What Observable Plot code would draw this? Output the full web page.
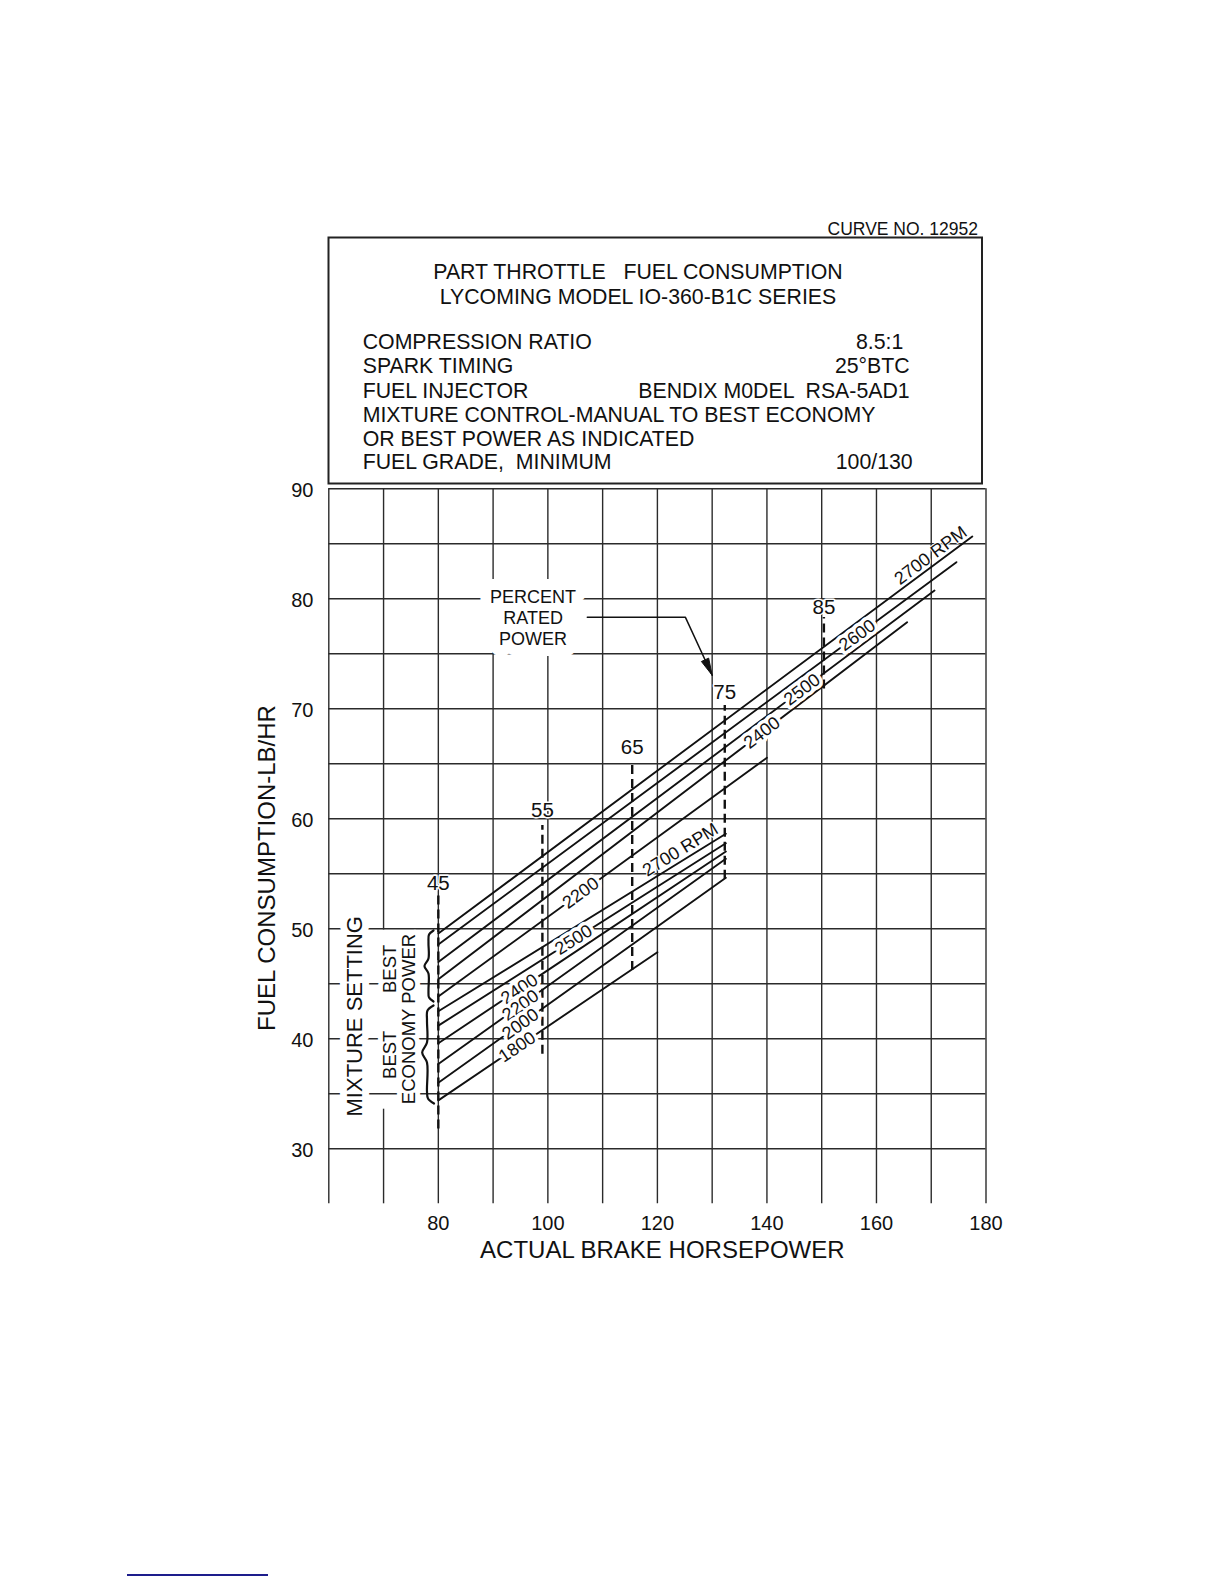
<!DOCTYPE html>
<html>
<head>
<meta charset="utf-8">
<script src="https://cdn.jsdelivr.net/npm/d3@7"></script>
<script src="https://cdn.jsdelivr.net/npm/@observablehq/plot@0.6"></script>
<style>
  html, body { margin: 0; padding: 0; background: #fff; }
  #page { position: relative; width: 1224px; height: 1584px; overflow: hidden; background: #fff;
          font-family: "Liberation Sans", Arial, Helvetica, sans-serif; color: #111; }
  #header { position: absolute; left: 0; top: 0; }
  #header text { font-family: "Liberation Sans", Arial, Helvetica, sans-serif; fill: #111; white-space: pre; }
  #chart { position: absolute; left: 0; top: 486px; }
  #rule { position: absolute; left: 127px; top: 1574px; width: 141px; height: 2px; background: #1d1d8c; }
</style>
</head>
<body>
<div id="page">
  <svg id="header" width="1224" height="486" viewBox="0 0 1224 486">
    <text x="978" y="235" text-anchor="end" font-size="17.5">CURVE NO. 12952</text>
    <rect x="328.5" y="237.5" width="653.5" height="246" fill="none" stroke="#222" stroke-width="2"></rect>
    <text x="638" y="279" text-anchor="middle" font-size="21.3">PART THROTTLE   FUEL CONSUMPTION</text>
    <text x="638" y="304" text-anchor="middle" font-size="21.3">LYCOMING MODEL IO-360-B1C SERIES</text>
    <text x="362.7" y="349.3" font-size="21.3">COMPRESSION RATIO</text>
    <text x="903.3" y="349.3" text-anchor="end" font-size="21.3">8.5:1</text>
    <text x="362.7" y="373.3" font-size="21.3">SPARK TIMING</text>
    <text x="909.7" y="373.3" text-anchor="end" font-size="21.3">25°BTC</text>
    <text x="362.7" y="397.7" font-size="21.3">FUEL INJECTOR</text>
    <text x="909.7" y="397.7" text-anchor="end" font-size="21.3">BENDIX M0DEL  RSA-5AD1</text>
    <text x="362.7" y="421.7" font-size="21.3">MIXTURE CONTROL-MANUAL TO BEST ECONOMY</text>
    <text x="362.7" y="445.5" font-size="21.3">OR BEST POWER AS INDICATED</text>
    <text x="362.7" y="469.3" font-size="21.3">FUEL GRADE,  MINIMUM</text>
    <text x="912.7" y="469.3" text-anchor="end" font-size="21.3">100/130</text>
  </svg>
  <div id="chart"></div>
  <div id="rule"></div>
</div>
<script>
// ---------------- data ----------------
// Best power mixture lines (lb/hr vs brake horsepower)
const powerRPM    = ["2700", "2600", "2500", "2400", "2200"];
const powerHP0    = [80, 80, 80, 80, 80];
const powerFuel0  = [49.57, 48.57, 46.99, 45.41, 43.85];
const powerHP1    = [177.5, 174.6, 170.6, 165.6, 140.0];
const powerFuel1  = [85.66, 83.33, 80.75, 77.87, 65.55];
const powerLabel  = ["2700 RPM", "2600", "2500", "2400", "2200"];
const powerLabelHP = [169.9, 156.5, 146.4, 139.1, 106.0];

// Best economy mixture lines
const economyRPM   = ["2700", "2500", "2400", "2200", "2000", "1800"];
const economyHP0   = [80, 80, 80, 80, 80, 80];
const economyFuel0 = [42.5, 41.2, 39.6, 37.7, 36.0, 34.4];
const economyHP1   = [132.5, 132.5, 132.5, 132.5, 132.5, 120.0];
const economyFuel1 = [58.64, 57.78, 57.03, 56.36, 54.64, 47.87];
const economyLabel = ["2700 RPM", "2500", "2400", "2200", "2000", "1800"];
const economyLabelHP = [124.2, 104.7, 94.8, 95.0, 95.0, 94.4];

// Percent rated power markers
const pctLabel     = ["45", "55", "65", "75", "85"];
const pctHP        = [80, 99, 115.4, 132.3, 150.4];
const pctFuelLow   = [31.8, 38.6, 46.2, 54.5, 71.8];
const pctFuelHigh  = [53.2, 59.4, 65.3, 70.3, 78.3];
const pctLabelFuel = [54.1, 60.75, 66.5, 71.5, 79.2];

// Axes
const xTicks = [80, 100, 120, 140, 160, 180];
const yTicks = [30, 40, 50, 60, 70, 80, 90];
const xGrid  = [60, 70, 80, 90, 100, 110, 120, 130, 140, 150, 160, 170, 180];
const yGrid  = [30, 35, 40, 45, 50, 55, 60, 65, 70, 75, 80, 85, 90];
const xDomain = [60, 180];
const yDomain = [25, 90];
// grid lines interrupted by the legend text blocks
const xGridGap = [{hp: 70, from: 33.6, to: 49.9}, {hp: 90, from: 75.6, to: 81.4}, {hp: 100, from: 75.6, to: 81.4}];

// Annotations (data units)
const mixtureText = ["MIXTURE SETTING", "BEST", "BEST", "ECONOMY POWER"];
const mixtureHP   = [64.8, 71.1, 71.1, 74.7];
const mixtureFuel = [42.05, 46.36, 38.55, 41.8];
const braceUpperHP   = [79.12, 78.30, 78.20, 78.20, 77.47, 78.20, 78.20, 78.30, 79.12];
const braceUpperFuel = [49.85, 49.48, 48.75, 47.30, 46.62, 45.94, 44.39, 43.75, 43.39];
const braceLowerHP   = [79.12, 78.02, 77.93, 77.93, 77.05, 77.93, 77.93, 78.11, 79.21];
const braceLowerFuel = [43.03, 42.57, 41.66, 39.66, 38.75, 37.85, 35.21, 34.57, 34.12];
const calloutText = "PERCENT\nRATED\nPOWER";
const calloutHP = 97.3, calloutFuel = 78.3;
const arrowHP   = [107.2, 125.1, 130.0];
const arrowFuel = [78.33, 78.33, 73.05];

// ---------------- layout ----------------
const W = 1224, CHART_TOP = 486, H = 804;
const FRAME_L = 328.3, FRAME_R = 985.5, FRAME_T = 488.3, FRAME_B = 1203.3;
const mTop = FRAME_T - CHART_TOP, mBottom = CHART_TOP + H - FRAME_B;
const mLeft = FRAME_L, mRight = W - FRAME_R;
const PX_HP = (FRAME_R - FRAME_L) / (xDomain[1] - xDomain[0]);
const PX_FUEL = (FRAME_B - FRAME_T) / (yDomain[1] - yDomain[0]);
const FONT = "Liberation Sans, Arial, Helvetica, sans-serif";
const INK = "#111";

// ---------------- derived tables ----------------
function buildLines(prefix, rpm, hp0, f0, hp1, f1) {
  const rows = [];
  rpm.forEach((r, i) => {
    rows.push({key: prefix + r, hp: hp0[i], fuel: f0[i]});
    rows.push({key: prefix + r, hp: hp1[i], fuel: f1[i]});
  });
  return rows;
}
const lineRows = [
  ...buildLines("P", powerRPM, powerHP0, powerFuel0, powerHP1, powerFuel1),
  ...buildLines("E", economyRPM, economyHP0, economyFuel0, economyHP1, economyFuel1)
];
function buildLabels(text, at, hp0, f0, hp1, f1) {
  return text.map((t, i) => {
    const slope = (f1[i] - f0[i]) / (hp1[i] - hp0[i]);
    const fuel = f0[i] + slope * (at[i] - hp0[i]);
    const angle = -Math.atan(slope * PX_FUEL / PX_HP) * 180 / Math.PI;
    return {text: t, hp: at[i], fuel, angle, above: /RPM/.test(t)};
  });
}
const labelRows = [
  ...buildLabels(powerLabel, powerLabelHP, powerHP0, powerFuel0, powerHP1, powerFuel1),
  ...buildLabels(economyLabel, economyLabelHP, economyHP0, economyFuel0, economyHP1, economyFuel1)
];
const inlineLabels = labelRows.filter(d => !d.above);
const aboveLabels = labelRows.filter(d => d.above);

const pctRows = pctLabel.map((t, i) => ({text: t, hp: pctHP[i], lo: pctFuelLow[i], hi: pctFuelHigh[i], ly: pctLabelFuel[i]}));

const vGrid = [];
xGrid.forEach(hp => {
  const gap = xGridGap.find(g => g.hp === hp);
  if (gap) {
    vGrid.push({hp, from: yDomain[0], to: gap.from});
    vGrid.push({hp, from: gap.to, to: yDomain[1]});
  } else vGrid.push({hp, from: yDomain[0], to: yDomain[1]});
});

const mixtureRows = mixtureText.map((t, i) => ({text: t, hp: mixtureHP[i], fuel: mixtureFuel[i]}));
const braces = [
  ...braceUpperHP.map((h, i) => ({b: "upper", hp: h, fuel: braceUpperFuel[i]})),
  ...braceLowerHP.map((h, i) => ({b: "lower", hp: h, fuel: braceLowerFuel[i]}))
];
const arrowRows = arrowHP.map((h, i) => ({hp: h, fuel: arrowFuel[i]}));

// arrowhead polygon (narrow filled triangle at the callout tip)
const tip = arrowRows[arrowRows.length - 1], prev = arrowRows[arrowRows.length - 2];
const dxp = (tip.hp - prev.hp) * PX_HP, dyp = -(tip.fuel - prev.fuel) * PX_FUEL;
const len = Math.hypot(dxp, dyp), ux = dxp / len, uy = dyp / len;
const HEAD_L = 17, HEAD_W = 4;
const toData = (px, py) => ({hp: tip.hp + px / PX_HP, fuel: tip.fuel - py / PX_FUEL});
const headRows = [
  toData(0, 0),
  toData(-ux * HEAD_L - uy * HEAD_W, -uy * HEAD_L + ux * HEAD_W),
  toData(-ux * HEAD_L + uy * HEAD_W, -uy * HEAD_L - ux * HEAD_W),
  toData(0, 0)
];

const calloutOpts = {x: () => calloutHP, y: () => calloutFuel, text: d => d, fontSize: 18,
  lineHeight: 1.17, fontFamily: FONT};

// ---------------- chart ----------------
const chart = Plot.plot({
  width: W, height: H,
  marginTop: mTop, marginBottom: mBottom, marginLeft: mLeft, marginRight: mRight,
  x: {domain: xDomain, axis: null},
  y: {domain: yDomain, axis: null},
  style: {fontFamily: FONT, color: INK, background: "transparent", overflow: "visible"},
  marks: [
    // grid
    Plot.ruleY(yGrid, {y: d => d, stroke: "#2b2b2b", strokeWidth: 1.4}),
    Plot.ruleX(vGrid, {x: "hp", y1: "from", y2: "to", stroke: "#2b2b2b", strokeWidth: 1.4}),

    // mixture-setting legend (white halo interrupts the grid)
    Plot.text(mixtureRows.slice(0, 1), {x: "hp", y: "fuel", text: "text", rotate: -90, fontSize: 22,
      fill: INK, stroke: "white", strokeWidth: 14, strokeLinejoin: "round", fontFamily: FONT}),
    Plot.text(mixtureRows.slice(1), {x: "hp", y: "fuel", text: "text", rotate: -90, fontSize: 18.5,
      fill: INK, stroke: "white", strokeWidth: 10, strokeLinejoin: "round", fontFamily: FONT}),

    // percent rated power callout: white knock-out layer, then the text
    Plot.text([calloutText], {...calloutOpts, fill: "white", stroke: "white", strokeWidth: 22, strokeLinejoin: "round"}),
    Plot.text([calloutText], {...calloutOpts, fill: INK}),

    // percent rated power dashed lines
    Plot.ruleX(pctRows, {x: "hp", y1: "lo", y2: "hi", stroke: INK, strokeWidth: 2.4, strokeDasharray: "9,5"}),

    // RPM lines
    Plot.line(lineRows, {x: "hp", y: "fuel", z: "key", stroke: INK, strokeWidth: 1.9}),

    // RPM labels
    Plot.text(inlineLabels, {x: "hp", y: "fuel", text: "text", rotate: "angle", fontSize: 18,
      fill: INK, stroke: "white", strokeWidth: 7, strokeLinejoin: "round", fontFamily: FONT}),
    Plot.text(aboveLabels, {x: "hp", y: "fuel", text: "text", rotate: "angle", dy: -12, fontSize: 18,
      fill: INK, stroke: "white", strokeWidth: 2, strokeLinejoin: "round", fontFamily: FONT}),

    // percent labels
    Plot.text(pctRows, {x: "hp", y: "ly", text: "text", fontSize: 20.5, fill: INK,
      stroke: "white", strokeWidth: 3, fontFamily: FONT}),

    // braces
    Plot.line(braces, {x: "hp", y: "fuel", z: "b", curve: "catmull-rom", stroke: INK, strokeWidth: 2.2}),

    // callout arrow
    Plot.line(arrowRows, {x: "hp", y: "fuel", stroke: INK, strokeWidth: 1.5}),
    Plot.line(headRows, {x: "hp", y: "fuel", fill: INK, stroke: INK, strokeWidth: 1}),

    // tick labels
    Plot.text(xTicks, {x: d => d, text: d => String(d), frameAnchor: "bottom", lineAnchor: "middle",
      dy: 20, fontSize: 20, fill: INK, fontFamily: FONT}),
    Plot.text(yTicks, {y: d => d, text: d => String(d), frameAnchor: "left", textAnchor: "end",
      lineAnchor: "middle", dx: -15.3, dy: 2, fontSize: 20, fill: INK, fontFamily: FONT}),

    // axis titles
    Plot.text(["FUEL CONSUMPTION-LB/HR"], {text: d => d, frameAnchor: "left", textAnchor: "middle",
      lineAnchor: "middle", rotate: -90,
      dx: 266.7 - FRAME_L, dy: 867.5 - (FRAME_T + FRAME_B) / 2, fontSize: 24, fill: INK, fontFamily: FONT}),
    Plot.text(["ACTUAL BRAKE HORSEPOWER"], {text: d => d, frameAnchor: "bottom", textAnchor: "middle",
      lineAnchor: "middle",
      dx: 661.8 - (FRAME_L + FRAME_R) / 2, dy: 1250 - FRAME_B, fontSize: 24, fill: INK, fontFamily: FONT})
  ]
});
document.getElementById("chart").appendChild(chart);
</script>
</body>
</html>
